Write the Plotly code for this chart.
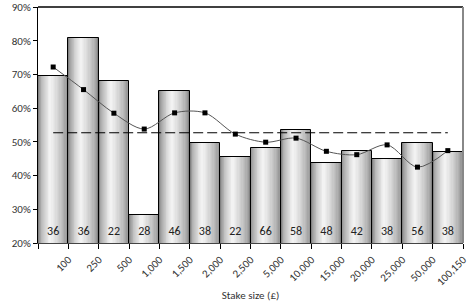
import plotly.graph_objects as go

# ---- data ----
stake_labels = ["100", "250", "500", "1,000", "1,500", "2,000", "2,500", "5,000",
                "10,000", "15,000", "20,000", "25,000", "50,000", "100,150"]
bar_values = [0.695, 0.807, 0.680, 0.284, 0.652, 0.497, 0.454, 0.483,
              0.534, 0.436, 0.473, 0.448, 0.498, 0.470]
counts = [36, 36, 22, 28, 46, 38, 22, 66, 58, 48, 42, 38, 56, 38]
smoothed = [0.722, 0.655, 0.585, 0.538, 0.586, 0.586, 0.523, 0.499,
            0.511, 0.472, 0.462, 0.491, 0.425, 0.474]
overall_mean = 0.527

x_idx = list(range(len(stake_labels)))
FONT = "Carlito, Lato, 'Liberation Sans', sans-serif"

fig = go.Figure()

# gradient-shaded bars: stacked overlay layers narrowing toward a highlight
N = 14
hl = 0.4  # highlight position across the bar (0=left,1=right)
for k in range(N):
    s = k / N
    left = -0.5 + s * hl
    right = 0.5 - s * (1 - hl)
    t = s ** 0.6
    c = int(130 + (248 - 130) * t)
    fig.add_trace(go.Bar(
        x=x_idx, y=bar_values, width=right - left, offset=left,
        marker=dict(color=f"rgb({c},{c},{c})",
                    line=dict(color="black", width=1 if k == 0 else 0)),
        showlegend=False, hoverinfo="skip"))

# count labels
fig.add_trace(go.Scatter(
    x=x_idx, y=[0.232] * len(x_idx), mode="text",
    text=[str(c) for c in counts],
    textfont=dict(family=FONT, size=12, color="#222"),
    showlegend=False, hoverinfo="skip"))

# overall mean dashed line
fig.add_trace(go.Scatter(
    x=[x_idx[0], x_idx[-1]], y=[overall_mean, overall_mean], mode="lines",
    line=dict(color="black", width=1.2, dash="10px,4px"),
    showlegend=False, hoverinfo="skip"))

# smoothed line with markers
fig.add_trace(go.Scatter(
    x=x_idx, y=smoothed, mode="lines+markers",
    line=dict(color="#555", width=1, shape="spline", smoothing=0.9),
    marker=dict(symbol="square", size=5, color="black"),
    showlegend=False, hoverinfo="skip"))

tickvals = [-0.5] + [i + 0.5 for i in x_idx]
ticktext = [""] + stake_labels

fig.update_layout(
    width=469, height=302,
    margin=dict(l=38, r=6, t=7, b=59, autoexpand=False),
    paper_bgcolor="white", plot_bgcolor="white",
    barmode="overlay", bargap=0,
    font=dict(family=FONT, size=11, color="#333"),
    xaxis=dict(range=[-0.5, len(x_idx) - 0.5], tickvals=tickvals, ticktext=ticktext,
               tickangle=-45, ticks="outside", ticklen=5, tickcolor="black",
               ticklabeloverflow="allow", automargin=False,
               showline=True, linecolor="#444", linewidth=1,
               showgrid=False, zeroline=False,
               tickfont=dict(family=FONT, size=11, color="#333"),
               title=dict(text="Stake size (£)", font=dict(family=FONT, size=11, color="#333"),
                          standoff=4)),
    yaxis=dict(range=[0.2, 0.9], dtick=0.1, tickformat=".0%", automargin=False,
               ticks="outside", ticklen=4, tickcolor="black",
               showline=True, linecolor="black", linewidth=1,
               showgrid=False, zeroline=False,
               tickfont=dict(family=FONT, size=11, color="#333")),
    shapes=[
        dict(type="line", xref="paper", yref="paper", x0=0, x1=1, y0=1, y1=1,
             line=dict(color="black", width=1.5)),
        dict(type="line", xref="paper", yref="paper", x0=1, x1=1, y0=0, y1=1,
             line=dict(color="#888", width=2)),
    ],
)

fig.write_html("out.html")
